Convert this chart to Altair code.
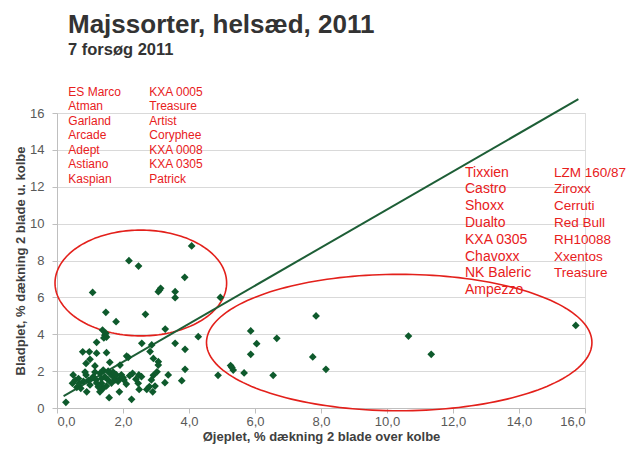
import altair as alt
import numpy as np
import pandas as pd

# ---- data ----
oje = [1.08, 1.48, 1.79, 2.18, 2.47, 2.68, 3.07, 3.11, 3.14, 3.58, 3.58, 3.87, 4.08, 4.95, 3.28,
       1.38, 1.45, 1.50, 1.42, 1.48,
       4.28, 3.58, 3.88, 2.57, 2.87, 2.82, 2.92, 3.07, 3.07, 1.20, 0.78, 0.98, 1.50, 2.11, 2.16,
       0.88, 1.00, 1.60, 1.15, 1.40, 1.91, 1.20,
       0.27, 0.49, 0.47, 0.60, 0.72, 0.68, 0.88, 0.90, 1.10, 1.18, 1.30, 1.35, 1.40, 1.30, 1.55,
       1.60, 1.70, 1.76, 1.91, 2.03, 1.58, 1.89, 2.29, 2.26, 2.49, 2.39, 2.46, 2.72, 2.80, 2.86,
       2.92, 3.03, 3.37, 3.27, 3.78, 3.88, 2.97, 2.90, 0.55, 0.80, 1.00, 1.05, 1.20, 1.25, 1.45,
       1.50, 1.65, 1.70, 1.80, 1.85, 1.95, 2.00, 2.10, 2.20, 0.85, 0.95, 1.15, 1.35, 1.55, 0.65,
       2.56, 2.48,
       7.85, 15.72, 5.87, 6.05, 6.66, 5.87, 10.65, 11.34, 7.75, 8.15, 5.26, 5.34, 5.30, 5.67,
       4.88, 6.55]
blad = [6.27, 5.19, 4.68, 7.99, 7.70, 5.08, 6.31, 6.40, 6.49, 6.31, 5.98, 7.09, 8.79, 6.00, 4.28,
        4.23, 3.95, 3.85, 3.80, 4.05,
        3.87, 3.51, 3.18, 3.51, 3.42, 3.06, 2.69, 2.51, 2.33, 3.56, 3.05, 3.05, 3.00, 2.82, 2.75,
        2.42, 2.64, 2.48, 2.28, 2.06, 2.33, 2.97,
        0.31, 1.79, 1.34, 1.12, 1.07, 1.34, 1.79, 0.88, 1.70, 1.52, 1.88, 1.34, 1.07, 0.88, 1.52,
        1.88, 1.70, 1.52, 1.61, 1.52, 0.56, 0.88, 1.88, 0.47, 1.01, 1.56, 1.34, 1.01, 1.16, 1.52,
        1.77, 1.96, 1.79, 1.37, 1.48, 2.10, 1.19, 0.88, 1.50, 1.45, 1.25, 1.60, 1.35, 1.15, 1.70,
        1.20, 1.35, 1.95, 1.80, 1.45, 1.80, 1.65, 1.30, 1.75, 1.95, 1.50, 1.95, 1.60, 2.00, 1.60,
        1.70, 1.79,
        4.99, 4.48, 4.18, 3.49, 3.78, 2.91, 3.90, 2.91, 2.77, 2.10, 2.30, 2.06, 2.20, 1.90,
        1.77, 1.77]

trend_x = [0.2, 15.8]
trend_y = [0.65, 16.75]

x_ticks = [0, 2, 4, 6, 8, 10, 12, 14, 16]
y_ticks = [0, 2, 4, 6, 8, 10, 12, 14, 16]

left_col1 = ["ES Marco", "Atman", "Garland", "Arcade", "Adept", "Astiano", "Kaspian"]
left_col2 = ["KXA 0005", "Treasure", "Artist", "Coryphee", "KXA 0008", "KXA 0305", "Patrick"]
right_col1 = ["Tixxien", "Castro", "Shoxx", "Dualto", "KXA 0305", "Chavoxx", "NK Baleric", "Ampezzo"]
right_col2 = ["LZM 160/87", "Ziroxx", "Cerruti", "Red Bull", "RH10088", "Xxentos", "Treasure"]

title_text = "Majssorter, helsæd, 2011"
subtitle_text = "7 forsøg 2011"
x_title = "Øjeplet, % dækning 2 blade over kolbe"
y_title = "Bladplet, % dækning 2 blade u. kolbe"

# annotation ellipses (centre x, centre y, radius x, radius y) in data units
ellipses = [(2.54, 6.78, 2.60, 2.87), (10.37, 3.55, 5.84, 3.70)]

# ---- build tables ----
pts = pd.DataFrame({"x": oje, "y": blad})
trend = pd.DataFrame({"x": trend_x, "y": trend_y})

t = np.linspace(0, 2 * np.pi, 181)
ell_rows = []
for i, (cx, cy, rx, ry) in enumerate(ellipses):
    for k, tt in enumerate(t):
        ell_rows.append({"e": i, "k": k, "x": cx + rx * np.cos(tt), "y": cy + ry * np.sin(tt)})
ell = pd.DataFrame(ell_rows)

xscale = alt.Scale(domain=[0, 16], nice=False)
yscale = alt.Scale(domain=[0, 16], nice=False)

xaxis = alt.Axis(values=x_ticks, grid=False, title=x_title, labelOverlap=False,
                 labelExpr="replace(format(datum.value, '.1f'), '.', ',')",
                 labelFontSize=13, labelColor="#595959", labelFont="Liberation Sans",
                 titleFont="Liberation Sans", titleFontSize=13, titleFontWeight="bold",
                 titleColor="#404040", domainColor="#bfbfbf", tickColor="#bfbfbf",
                 tickSize=5, labelPadding=2, titlePadding=2)
yaxis = alt.Axis(values=y_ticks, grid=True, gridColor="#d9d9d9", title=y_title,
                 labelOverlap=False,
                 labelFontSize=13, labelColor="#595959", labelFont="Liberation Sans",
                 titleFont="Liberation Sans", titleFontSize=13, titleFontWeight="bold",
                 titleColor="#404040", domainColor="#bfbfbf", tickColor="#bfbfbf",
                 tickSize=5, labelPadding=8, titlePadding=2)

X = alt.X("x:Q", scale=xscale, axis=xaxis)
Y = alt.Y("y:Q", scale=yscale, axis=yaxis)

base_pts = alt.Chart(pts).mark_point(shape="diamond", filled=True, size=60,
                                     color="#0e5a2c", opacity=1).encode(x=X, y=Y)

trend_line = alt.Chart(trend).mark_line(color="#1d5e36", strokeWidth=2).encode(x=X, y=Y)

ell_line = alt.Chart(ell).mark_line(color="#e3201b", strokeWidth=1.6).encode(
    x=X, y=Y, detail="e:N", order="k:Q")

dummy = pd.DataFrame({"a": [0]})


def txt(lines, x, y, size, lh, color="#e8201c", weight="normal"):
    return alt.Chart(dummy).mark_text(
        text=lines, align="left", baseline="alphabetic", fontSize=size,
        lineHeight=lh, font="Liberation Sans", color=color, fontWeight=weight
    ).encode(x=alt.value(x), y=alt.value(y))


layers = [
    ell_line, trend_line, base_pts,
    txt(left_col1, 11.3, -17.3, 12, 14.5),
    txt(left_col2, 92.3, -17.3, 12, 14.5),
    txt(right_col1, 408, 63.7, 14, 16.8),
    txt(right_col2, 497, 63.7, 13.5, 16.8),
    txt([title_text], 11, -80, 26, 30, color="#333333", weight="bold"),
    txt([subtitle_text], 11, -58, 16.5, 20, color="#333333", weight="bold"),
]

chart = alt.layer(*layers).properties(
    width=528, height=295,
    autosize=alt.AutoSizeParams(type="none"),
    padding={"left": 49, "top": 105, "right": 42, "bottom": 36},
).configure_view(stroke=None).configure(background="white")

chart.save("out.html", embed_options={"renderer": "svg", "actions": False})
